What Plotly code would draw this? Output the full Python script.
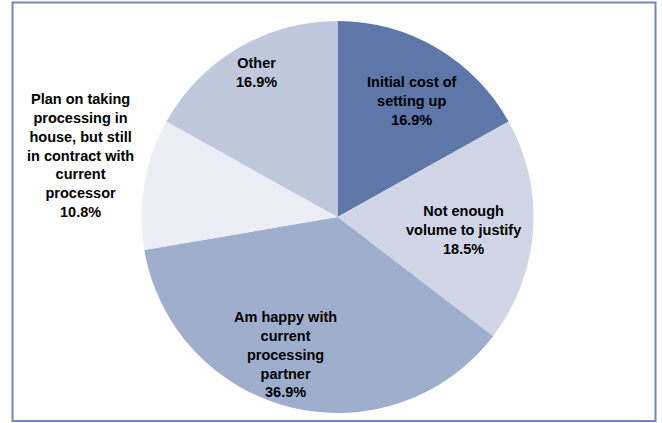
import plotly.graph_objects as go

W, H = 662, 423

categories = [
    "Initial cost of<br>setting up",
    "Not enough<br>volume to justify",
    "Am happy with<br>current<br>processing<br>partner",
    "Plan on taking<br>processing in<br>house, but still<br>in contract with<br>current<br>processor",
    "Other",
]
values = [16.9, 18.5, 36.9, 10.8, 16.9]
colors = ["#5E76A8", "#D0D6E6", "#9FAECD", "#EDEEF5", "#C0C8DE"]

# label block centres (pixels)
label_pos = [(412, 101), (463, 230), (285, 354), (80, 155), (256, 72)]

cx, cy, r = 337.5, 217.0, 196.0

fig = go.Figure(go.Pie(
    labels=[c.replace("<br>", " ") for c in categories],
    values=values,
    sort=False,
    direction="clockwise",
    rotation=0,
    marker=dict(colors=colors, line=dict(width=0)),
    textinfo="none",
    hoverinfo="label+percent",
    showlegend=False,
    domain=dict(x=[(cx - r) / W, (cx + r) / W], y=[(H - cy - r) / H, (H - cy + r) / H]),
))

for cat, v, (px, py) in zip(categories, values, label_pos):
    fig.add_annotation(
        x=px / W, y=(H - py) / H, xref="paper", yref="paper",
        text=f"<b>{cat}<br>{v:.1f}%</b>", showarrow=False,
        xanchor="center", yanchor="middle", align="center",
        font=dict(family="Liberation Sans, Arial", size=14.5, color="#000000"),
    )

fig.add_shape(type="rect", xref="paper", yref="paper",
              x0=12.5 / W, x1=655.5 / W, y0=(H - 421) / H, y1=(H - 2.5) / H,
              line=dict(color="#6F86BE", width=2), fillcolor="rgba(0,0,0,0)")

fig.update_layout(
    width=W, height=H,
    margin=dict(l=0, r=0, t=0, b=0),
    paper_bgcolor="white", plot_bgcolor="white",
)

fig.write_html("out.html")
